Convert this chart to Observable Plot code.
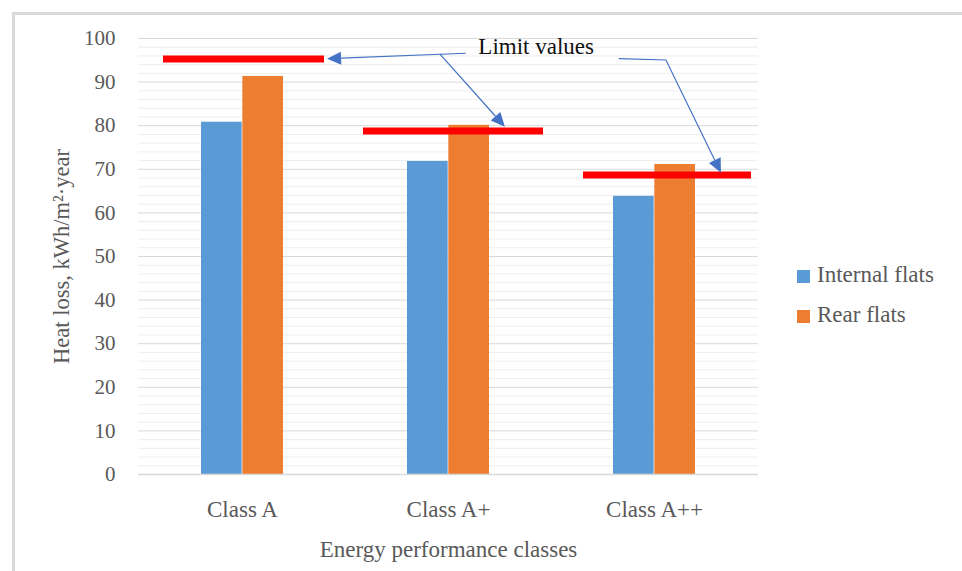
<!DOCTYPE html>
<html><head><meta charset="utf-8">
<script src="https://cdn.jsdelivr.net/npm/d3@7"></script>
<script src="https://cdn.jsdelivr.net/npm/@observablehq/plot@0.6"></script>
<style>
html,body{margin:0;padding:0;background:#fff;}
#wrap{position:relative;width:962px;height:571px;overflow:hidden;background:#fff;}
#wrap svg{display:block;}
#frame{position:absolute;left:12px;top:12px;width:960px;height:570px;border-left:3px solid #D9D9D9;border-top:3px solid #D9D9D9;pointer-events:none;}
[aria-label^="x-axis"] text{font-size:23px;}
</style></head><body><div id="wrap"><div id="frame"></div></div>
<script>
// ---- data ----
const classes = ["Class A", "Class A+", "Class A++"];
const seriesNames = ["Internal flats", "Rear flats"];
const seriesColors = ["#5B9BD5", "#ED7D31"];
const internalValues = [80.8, 71.8, 63.8];
const rearValues = [91.3, 80.1, 71.1];
const limitValues = [95.3, 78.8, 68.7];
const yTicks = [0, 10, 20, 30, 40, 50, 60, 70, 80, 90, 100];
const yMinorTicks = [2,4,6,8,12,14,16,18,22,24,26,28,32,34,36,38,42,44,46,48,52,54,56,58,62,64,66,68,72,74,76,78,82,84,86,88,92,94,96,98];
const xTitle = "Energy performance classes";
const yTitle = "Heat loss, kWh/m²·year";
const annotationText = "Limit values";
// annotation arrows: [class position (0 = Class A centre, 1 = Class A+ ...), value]
const arrowA = [[1.086, 96.5], [0.413, 95.25]];
const arrowB = [[0.961, 96.3], [1.276, 79.66]];
const arrowC = [[1.829, 95.25], [2.058, 94.95], [2.325, 69.1]];
const annotationPos = [1.428, 96.3];

// ---- layout ----
const W = 962, H = 571, mL = 138, mR = 204, mT = 38, mB = 97;
const padIn = 0.6, padOut = 0.3;
const bandHalf = ((W - mL - mR) / classes.length) * (1 - padIn) / 2;

const rows = classes.flatMap((c, i) => [
  {cls: c, series: seriesNames[0], value: internalValues[i]},
  {cls: c, series: seriesNames[1], value: rearValues[i]}
]);
const limits = classes.map((c, i) => ({cls: c, value: limitValues[i]}));
const limitStyle = {x: "cls", y: "value", stroke: "#FF0000", strokeWidth: 7};

const plot = Plot.plot({
  width: W, height: H, marginLeft: mL, marginRight: mR, marginTop: mT, marginBottom: mB,
  style: {fontFamily: "'Liberation Serif', serif", fontSize: "21px", color: "#595959", background: "transparent", overflow: "visible"},
  x: {domain: classes, paddingInner: padIn, paddingOuter: padOut, label: null, tickSize: 0, tickPadding: 26},
  y: {domain: [0, 100], ticks: yTicks, tickSize: 0, tickPadding: 23, label: null},
  color: {domain: seriesNames, range: seriesColors},
  marks: [
    Plot.ruleY(yMinorTicks, {stroke: "#EEEEEE", strokeWidth: 1}),
    Plot.ruleY(yTicks, {stroke: "#D9D9D9", strokeWidth: 1}),
    Plot.barY(rows.filter(d => d.series === seriesNames[0]), {x: "cls", y: "value", fill: "series", insetRight: bandHalf}),
    Plot.barY(rows.filter(d => d.series === seriesNames[1]), {x: "cls", y: "value", fill: "series", insetLeft: bandHalf}),
    Plot.ruleY([0], {stroke: "#D9D9D9", strokeWidth: 1.5}),
    Plot.tickY(limits.filter(d => d.cls === classes[0]), {...limitStyle, insetLeft: -38, insetRight: -41}),
    Plot.tickY(limits.filter(d => d.cls === classes[1]), {...limitStyle, insetLeft: -44, insetRight: -54}),
    Plot.tickY(limits.filter(d => d.cls === classes[2]), {...limitStyle, insetLeft: -30, insetRight: -56}),
    Plot.text([yTitle], {text: d => d, frameAnchor: "left", textAnchor: "middle", lineAnchor: "middle", dx: -77, rotate: -90, fontSize: 22.5, fill: "#595959"}),
    Plot.text([xTitle], {text: d => d, frameAnchor: "bottom", textAnchor: "middle", lineAnchor: "middle", dy: 75.5, fontSize: 23, fill: "#595959"})
  ]
});

const wrap = document.getElementById("wrap");
wrap.prepend(plot);

// ---- annotation overlay using the plot's scales ----
const xs = plot.scale("x"), ys = plot.scale("y");
const fbX = d3.scaleBand(classes, [mL, W - mR]).paddingInner(padIn).paddingOuter(padOut);
const fbY = d3.scaleLinear([0, 100], [H - mB, mT]);
const xApply = xs && xs.apply ? xs.apply : fbX;
const bw = xs && xs.bandwidth != null ? xs.bandwidth : fbX.bandwidth();
const yApply = ys && ys.apply ? ys.apply : fbY;
const c0 = xApply(classes[0]) + bw / 2;
const step = xApply(classes[1]) - xApply(classes[0]);
const px = ci => c0 + ci * step;

const svg = d3.select(plot);
const g = svg.append("g").attr("aria-label", "annotation");
const arrowColor = "#4472C4";
[arrowA, arrowB, arrowC].forEach(pts => {
  const P = pts.map(([ci, v]) => [px(ci), yApply(v)]);
  const [x1, y1] = P[P.length - 2], [x2, y2] = P[P.length - 1];
  const ang = Math.atan2(y2 - y1, x2 - x1);
  const L = 14, Wd = 6.5;
  const base = [x2 - L * Math.cos(ang), y2 - L * Math.sin(ang)];
  g.append("path").attr("d", d3.line()(P.slice(0, -1).concat([base])))
    .attr("fill", "none").attr("stroke", arrowColor).attr("stroke-width", 1.2);
  g.append("path")
    .attr("d", `M${x2},${y2}L${base[0] + Wd * Math.sin(ang)},${base[1] - Wd * Math.cos(ang)}L${base[0] - Wd * Math.sin(ang)},${base[1] + Wd * Math.cos(ang)}Z`)
    .attr("fill", arrowColor);
});
g.append("text").attr("x", px(annotationPos[0])).attr("y", yApply(annotationPos[1]))
  .attr("text-anchor", "middle").attr("font-size", 23).attr("fill", "#111")
  .text(annotationText);

// ---- legend (right side) ----
const lg = svg.append("g").attr("aria-label", "legend").attr("text-anchor", "start");
seriesNames.forEach((s, i) => {
  lg.append("rect").attr("x", 797).attr("y", 270 + i * 40).attr("width", 13).attr("height", 13).attr("fill", seriesColors[i]);
  lg.append("text").attr("x", 817).attr("y", 282 + i * 40).attr("text-anchor", "start").attr("font-size", 23).attr("fill", "#595959").text(s);
});
</script>
</body></html>
